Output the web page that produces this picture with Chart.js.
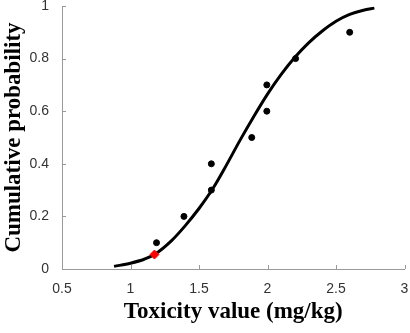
<!DOCTYPE html>
<html lang="en">
<head>
    <meta charset="UTF-8">
    <title>Cumulative probability</title>
    <script src="https://cdn.jsdelivr.net/npm/chart.js"></script>
    <style>
        body {
            margin: 0;
            padding: 0;
            background-color: #ffffff;
        }
        .wrap {
            width: 410px;
            height: 333px;
        }
    </style>
</head>
<body>
    <div class="wrap">
        <canvas id="cdfChart"></canvas>
    </div>

    <script>
        // observed toxicity values and their cumulative probabilities
        const obsX = [1.19, 1.39, 1.59, 1.59, 1.885, 1.995, 1.995, 2.205, 2.6];
        const obsY = [0.1, 0.2, 0.3, 0.4, 0.5, 0.6, 0.7, 0.8, 0.9];

        // highlighted point (red diamond)
        const markX = [1.175];
        const markY = [0.055];

        // fitted curve
        const fitX = [0.88, 1.0, 1.1, 1.175, 1.3, 1.4, 1.5, 1.6, 1.7, 1.8, 1.9, 2.0, 2.1, 2.2, 2.3, 2.4, 2.5, 2.6, 2.7, 2.78];
        const fitY = [0.010, 0.022, 0.037, 0.055, 0.108, 0.165, 0.23, 0.305, 0.395, 0.49, 0.58, 0.665, 0.74, 0.805, 0.86, 0.905, 0.942, 0.968, 0.984, 0.992];

        // tick labels
        const xTicks = [0.5, 1, 1.5, 2, 2.5, 3];
        const yTicks = [0, 0.2, 0.4, 0.6, 0.8, 1];

        const toPoints = (xs, ys) => xs.map((x, i) => ({ x: x, y: ys[i] }));

        // small inward tick marks, like the original figure
        const innerTicks = {
            id: 'innerTicks',
            afterDraw(chart) {
                const ctx = chart.ctx;
                const xs = chart.scales.x;
                const ys = chart.scales.y;
                const area = chart.chartArea;
                ctx.save();
                ctx.strokeStyle = '#9a9a9a';
                ctx.lineWidth = 1;
                ctx.beginPath();
                xTicks.forEach(v => {
                    const px = Math.round(xs.getPixelForValue(v)) + 0.5;
                    ctx.moveTo(px, area.bottom);
                    ctx.lineTo(px, area.bottom - 4);
                });
                yTicks.forEach(v => {
                    const py = Math.round(ys.getPixelForValue(v)) + 0.5;
                    ctx.moveTo(area.left, py);
                    ctx.lineTo(area.left + 4, py);
                });
                ctx.stroke();
                ctx.restore();
            }
        };

        const tickFont = { family: 'Liberation Sans, Arial, sans-serif', size: 14 };
        const titleFont = { family: 'Liberation Serif, Times New Roman, serif', size: 23, weight: 'bold' };

        const ctx = document.getElementById('cdfChart').getContext('2d');
        new Chart(ctx, {
            type: 'scatter',
            data: {
                datasets: [
                    {
                        type: 'line',
                        label: 'Fit',
                        data: toPoints(fitX, fitY),
                        borderColor: '#000000',
                        borderWidth: 3,
                        pointRadius: 0,
                        cubicInterpolationMode: 'monotone',
                        fill: false,
                        order: 2
                    },
                    {
                        label: 'Observed',
                        data: toPoints(obsX, obsY),
                        backgroundColor: '#000000',
                        borderColor: '#000000',
                        pointRadius: 3,
                        order: 1
                    },
                    {
                        label: 'Marked',
                        data: toPoints(markX, markY),
                        backgroundColor: '#ff0000',
                        borderColor: '#ff0000',
                        pointStyle: 'rectRot',
                        pointRadius: 4.5,
                        order: 0
                    }
                ]
            },
            options: {
                responsive: true,
                maintainAspectRatio: false,
                animation: false,
                layout: { padding: { top: 6, right: 5, left: 0, bottom: 0 } },
                plugins: {
                    legend: { display: false },
                    tooltip: { enabled: false }
                },
                scales: {
                    x: {
                        type: 'linear',
                        min: 0.5,
                        max: 3,
                        afterBuildTicks: scale => { scale.ticks = xTicks.map(v => ({ value: v })); },
                        afterFit: scale => {
                            scale.height = 64;
                            scale.paddingLeft = 0;
                            scale.paddingRight = 0;
                        },
                        grid: { display: false },
                        border: { display: true, color: '#9a9a9a', width: 1 },
                        ticks: {
                            color: '#333333',
                            font: tickFont,
                            padding: 4,
                            maxRotation: 0,
                            callback: v => String(v)
                        },
                        title: {
                            display: true,
                            text: 'Toxicity value (mg/kg)',
                            color: '#000000',
                            font: titleFont,
                            padding: { top: 8, bottom: 7 }
                        }
                    },
                    y: {
                        type: 'linear',
                        min: 0,
                        max: 1,
                        afterBuildTicks: scale => { scale.ticks = yTicks.map(v => ({ value: v })); },
                        afterFit: scale => {
                            scale.width = 62;
                            scale.paddingTop = 0;
                            scale.paddingBottom = 0;
                        },
                        grid: { display: false },
                        border: { display: true, color: '#9a9a9a', width: 1 },
                        ticks: {
                            color: '#333333',
                            font: tickFont,
                            padding: 5,
                            callback: v => String(v)
                        },
                        title: {
                            display: true,
                            text: 'Cumulative probability',
                            color: '#000000',
                            font: titleFont,
                            padding: { top: 0, bottom: 0 }
                        }
                    }
                }
            },
            plugins: [innerTicks]
        });
    </script>
</body>
</html>
